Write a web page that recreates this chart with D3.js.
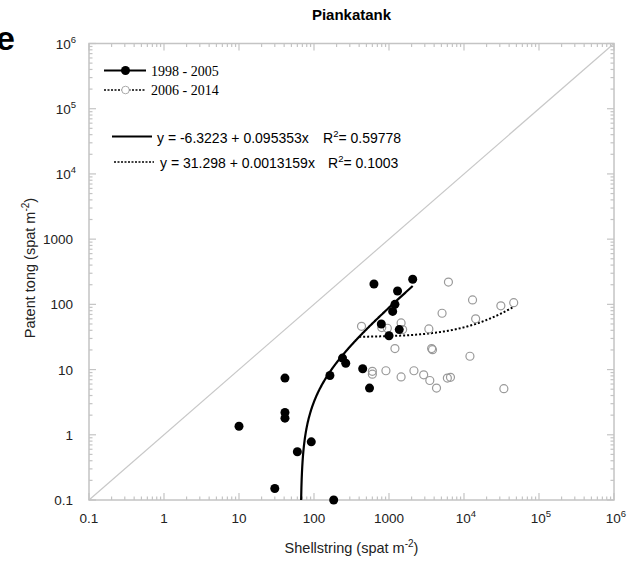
<!DOCTYPE html>
<meta charset="utf-8">
<script src="https://d3js.org/d3.v7.min.js"></script>
<style>
  body { margin: 0; background: #fff; }
  svg { font-family: "Liberation Sans", Arial, sans-serif; }
</style>
<div id="chart"></div>
<script>
// data
var filledX = [10, 30, 41, 41, 41, 60, 92, 163, 183, 240, 265, 446, 550, 630, 790, 1000, 1120, 1200, 1300, 1370, 2070];
var filledY = [1.35, 0.15, 7.4, 2.2, 1.8, 0.55, 0.78, 8.1, 0.1, 15, 12.5, 10.3, 5.2, 205, 50, 33, 78, 100, 160, 41, 243];

var openX = [6200, 13000, 31000, 46000, 5100, 14300, 430, 1450, 800, 950, 1520, 3400, 1200, 3700, 3800, 12000, 600, 600, 910, 1450, 2150, 2900, 3500, 4300, 6000, 6600, 34000];
var openY = [220, 117, 95, 106, 73, 60, 46, 52, 44, 43, 41, 42, 21, 21, 20.2, 16, 9.4, 8.5, 9.6, 7.7, 9.6, 8.3, 6.8, 5.2, 7.4, 7.6, 5.1];

var decades = [-1, 0, 1, 2, 3, 4, 5, 6];
var tickLabels = ["0.1", "1", "10", "100", "1000", "10^4", "10^5", "10^6"];

var fit1 = {a: -6.3223, b: 0.095353, label: "y = -6.3223 + 0.095353x", r2: "= 0.59778"};
var fit2 = {a: 31.298, b: 0.0013159, label: "y = 31.298 + 0.0013159x", r2: "= 0.1003"};

var width = 639, height = 565;
var pLeft = 89, pRight = 614, pTop = 43.5, pBottom = 500;
var axisColor = "#c4c4c4";

var svg = d3.select("#chart").append("svg")
  .attr("width", width)
  .attr("height", height);

var x = d3.scaleLog().domain([0.1, 1e6]).range([pLeft, pRight]);
var y = d3.scaleLog().domain([0.1, 1e6]).range([pBottom, pTop]);

// panel letter and title
svg.append("text")
  .attr("x", -4).attr("y", 50)
  .style("font-size", "34px").style("font-weight", "bold")
  .text("e");

svg.append("text")
  .attr("x", (pLeft + pRight) / 2).attr("y", 20)
  .attr("text-anchor", "middle")
  .style("font-size", "15px").style("font-weight", "bold")
  .text("Piankatank");

// 1:1 line
svg.append("line")
  .attr("x1", x(0.1)).attr("y1", y(0.1))
  .attr("x2", x(1e6)).attr("y2", y(1e6))
  .attr("stroke", "#c8c8c8").attr("stroke-width", 1.2);

// frame
svg.append("rect")
  .attr("x", pLeft).attr("y", pTop)
  .attr("width", pRight - pLeft).attr("height", pBottom - pTop)
  .attr("fill", "none").attr("stroke", axisColor).attr("stroke-width", 1.5);

// ticks (inward on all four sides)
var ticks = [];
decades.forEach(function(e) {
  ticks.push({v: Math.pow(10, e), major: true});
  if (e < 6) {
    for (var k = 2; k <= 9; k++) ticks.push({v: k * Math.pow(10, e), major: false});
  }
});

var tg = svg.append("g").attr("stroke", axisColor).attr("stroke-width", 1.2);
ticks.forEach(function(t) {
  var len = t.major ? 7 : 3.5;
  var px = x(t.v), py = y(t.v);
  tg.append("line").attr("x1", px).attr("x2", px).attr("y1", pBottom).attr("y2", pBottom - len);
  tg.append("line").attr("x1", px).attr("x2", px).attr("y1", pTop).attr("y2", pTop + len);
  tg.append("line").attr("y1", py).attr("y2", py).attr("x1", pLeft).attr("x2", pLeft + len);
  tg.append("line").attr("y1", py).attr("y2", py).attr("x1", pRight).attr("x2", pRight - len);
});

function writeLabel(sel, s) {
  var parts = s.split("^");
  sel.append("tspan").text(parts[0]);
  if (parts.length > 1) {
    sel.append("tspan").attr("dy", -6).style("font-size", "9.5px").text(parts[1]);
  }
}

decades.forEach(function(e, i) {
  var v = Math.pow(10, e);
  var tx = svg.append("text")
    .attr("x", x(v) + (tickLabels[i].indexOf("^") > 0 ? 2 : 0)).attr("y", 523)
    .attr("text-anchor", "middle")
    .style("font-size", "13.5px").attr("fill", "#222");
  writeLabel(tx, tickLabels[i]);

  var ty = svg.append("text")
    .attr("x", tickLabels[i].indexOf("^") > 0 ? 76 : 73).attr("y", y(v) + 5)
    .attr("text-anchor", "end")
    .style("font-size", "13.5px").attr("fill", "#222");
  writeLabel(ty, tickLabels[i]);
});

// axis titles
var xt = svg.append("text")
  .attr("x", (pLeft + pRight) / 2).attr("y", 553)
  .attr("text-anchor", "middle")
  .style("font-size", "14.5px").attr("fill", "#222");
xt.append("tspan").text("Shellstring (spat m");
xt.append("tspan").attr("dy", -6).style("font-size", "10px").text("-2");
xt.append("tspan").attr("dy", 6).text(")");

var yt = svg.append("text")
  .attr("transform", "translate(35," + 268 + ") rotate(-90)")
  .attr("text-anchor", "middle")
  .style("font-size", "14.5px").attr("fill", "#222");
yt.append("tspan").text("Patent tong (spat m");
yt.append("tspan").attr("dy", -6).style("font-size", "10px").text("-2");
yt.append("tspan").attr("dy", 6).text(")");

// fitted curves
function fitPath(f, x0, x1) {
  var pts = [];
  var l0 = Math.log10(x0), l1 = Math.log10(x1);
  for (var i = 0; i <= 400; i++) {
    var xv = Math.pow(10, l0 + (l1 - l0) * i / 400);
    var yv = Math.max(0.1, f.a + f.b * xv);
    pts.push([xv, yv]);
  }
  return d3.line().x(function(d) { return x(d[0]); }).y(function(d) { return y(d[1]); })(pts);
}

var x0fit1 = (0.1 - fit1.a) / fit1.b;
svg.append("path")
  .attr("d", fitPath(fit1, x0fit1, d3.max(filledX)))
  .attr("fill", "none").attr("stroke", "#000").attr("stroke-width", 2.2);

svg.append("path")
  .attr("d", fitPath(fit2, 400, d3.max(openX)))
  .attr("fill", "none").attr("stroke", "#000").attr("stroke-width", 2)
  .attr("stroke-dasharray", "2,2");

// points
svg.append("g").selectAll("circle")
  .data(openX)
  .enter().append("circle")
  .attr("cx", function(d) { return x(d); })
  .attr("cy", function(d, i) { return y(openY[i]); })
  .attr("r", 4)
  .attr("fill", "none").attr("stroke", "#9a9a9a").attr("stroke-width", 1.2);

svg.append("g").selectAll("circle")
  .data(filledX)
  .enter().append("circle")
  .attr("cx", function(d) { return x(d); })
  .attr("cy", function(d, i) { return y(filledY[i]); })
  .attr("r", 4.5)
  .attr("fill", "#000");

// legend
var leg = svg.append("g");
leg.append("line").attr("x1", 104).attr("x2", 146).attr("y1", 70.5).attr("y2", 70.5)
  .attr("stroke", "#000").attr("stroke-width", 2);
leg.append("circle").attr("cx", 125.5).attr("cy", 70.5).attr("r", 4.5).attr("fill", "#000");
leg.append("text").attr("x", 151).attr("y", 75.5)
  .style("font-family", "'Liberation Serif', 'Times New Roman', serif").style("font-size", "14px")
  .text("1998 - 2005");

leg.append("line").attr("x1", 104).attr("x2", 146).attr("y1", 90).attr("y2", 90)
  .attr("stroke", "#000").attr("stroke-width", 1.5).attr("stroke-dasharray", "2,1.5");
leg.append("circle").attr("cx", 125.5).attr("cy", 90).attr("r", 3.8)
  .attr("fill", "#fff").attr("stroke", "#aaa").attr("stroke-width", 1);
leg.append("text").attr("x", 151).attr("y", 95)
  .style("font-family", "'Liberation Serif', 'Times New Roman', serif").style("font-size", "14px")
  .text("2006 - 2014");

// equations
function equation(yy, x1, x2, tx, rx, f, dashed) {
  var l = leg.append("line").attr("x1", x1).attr("x2", x2).attr("y1", yy).attr("y2", yy)
    .attr("stroke", "#000").attr("stroke-width", dashed ? 1.5 : 2);
  if (dashed) l.attr("stroke-dasharray", "2,1.5");
  leg.append("text").attr("x", tx).attr("y", yy + 6)
    .style("font-size", "14px").text(f.label);
  var r = leg.append("text").attr("x", rx).attr("y", yy + 6).style("font-size", "14px");
  r.append("tspan").text("R");
  r.append("tspan").attr("dy", -6).style("font-size", "9.5px").text("2");
  r.append("tspan").attr("dy", 6).text(f.r2);
}
equation(136.5, 112, 152, 157, 323, fit1, false);
equation(162, 114, 154, 160, 328, fit2, true);
</script>
